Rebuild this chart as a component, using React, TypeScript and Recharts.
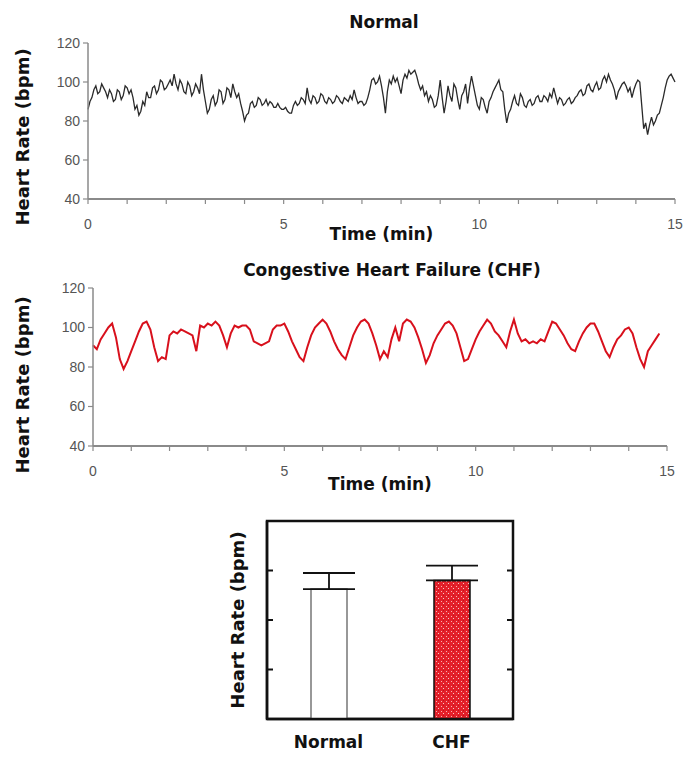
import React from 'react';
import { LineChart, Line, XAxis, YAxis, ComposedChart, Bar, Cell, ErrorBar, Label, ReferenceArea } from 'recharts';

// Normal subject, bpm every 0.05 min from 0 to 15 min
const NORMAL_STEP = 0.05;
const normalHr = [
  86, 90, 92, 96, 98, 94, 95, 99, 97, 95, 92, 96, 94, 90, 91, 96, 95, 91, 93, 98,
  97, 94, 96, 92, 86, 88, 83, 85, 90, 88, 95, 92, 92, 97, 98, 94, 96, 101, 100, 96,
  97, 99, 101, 98, 104, 99, 96, 101, 99, 95, 94, 100, 98, 93, 95, 99, 97, 94, 104, 96,
  90, 84, 86, 91, 93, 88, 90, 96, 95, 89, 91, 97, 96, 92, 99, 95, 92, 94, 89, 85,
  80, 83, 84, 89, 90, 87, 88, 92, 91, 88, 89, 91, 88, 90, 89, 87, 87, 89, 87, 86,
  86, 87, 85, 84, 84, 88, 90, 88, 89, 92, 91, 89, 97, 91, 89, 93, 92, 89, 90, 94,
  93, 90, 89, 92, 91, 89, 90, 93, 92, 90, 89, 92, 91, 90, 93, 91, 96, 92, 89, 90,
  90, 88, 89, 92, 96, 101, 102, 99, 100, 103, 98, 92, 84, 95, 101, 99, 103, 100, 102, 98,
  94, 101, 104, 102, 106, 104, 105, 106, 103, 99, 96, 98, 93, 95, 90, 93, 91, 87, 88, 93,
  101, 92, 84, 90, 98, 93, 90, 99, 97, 91, 86, 93, 95, 99, 89, 97, 103, 98, 93, 88,
  86, 92, 91, 87, 84, 90, 92, 95, 97, 99, 101, 96, 95, 86, 79, 84, 86, 90, 93, 89,
  88, 94, 92, 88, 87, 90, 91, 88, 89, 92, 93, 90, 90, 93, 92, 90, 94, 92, 97, 93,
  89, 92, 91, 88, 89, 91, 92, 89, 90, 92, 93, 95, 96, 93, 94, 98, 99, 96, 95, 98,
  100, 96, 97, 101, 103, 100, 104, 101, 99, 96, 91, 95, 97, 99, 100, 98, 95, 97, 92, 96,
  99, 101, 100, 88, 76, 79, 73, 78, 82, 78, 80, 83, 84, 88, 92, 97, 101, 103, 104, 102,
  100,
];

// CHF patient, bpm every 0.1 min from 0 to 14.8 min
const CHF_STEP = 0.1;
const chfHr = [
  91, 89, 94, 97, 100, 102, 95, 84, 79, 83,
  88, 93, 98, 102, 103, 99, 90, 83, 85, 84,
  96, 98, 97, 99, 98, 97, 96, 88, 101, 100,
  102, 101, 103, 101, 96, 90, 97, 101, 100, 101,
  101, 99, 93, 92, 91, 92, 93, 99, 101, 101,
  102, 98, 93, 89, 85, 83, 90, 96, 100, 102,
  104, 102, 98, 93, 89, 86, 84, 90, 96, 100,
  103, 104, 102, 97, 91, 84, 88, 85, 94, 100,
  93, 102, 104, 103, 100, 95, 89, 82, 86, 92,
  96, 99, 102, 103, 101, 97, 90, 83, 84, 89,
  94, 98, 101, 104, 102, 98, 96, 93, 90, 98,
  104, 97, 93, 94, 92, 93, 92, 94, 93, 98,
  103, 102, 99, 96, 92, 89, 88, 93, 97, 100,
  102, 102, 98, 93, 88, 85, 90, 94, 96, 99,
  100, 97, 90, 84, 80, 88, 91, 94, 97,
];

const timeTicks = [0, 1, 2, 3, 4, 5, 6, 7, 8, 9, 10, 11, 12, 13, 14, 15];
const hrTicks = [40, 60, 80, 100, 120];

// summary bars: mean and SD (bpm)
const barGroups = ['Normal', 'CHF'];
const barMeans = [92.5, 96];
const barSd = [6.5, 6];
const barTicks = [60, 80, 100];

const toSeries = (vals: number[], step: number) =>
  vals.map((hr, i) => ({ t: Math.round(i * step * 100) / 100, hr }));
const normalData = toSeries(normalHr, NORMAL_STEP);
const chfData = toSeries(chfHr, CHF_STEP);
const barData = barGroups.map((name, i) => ({ name, mean: barMeans[i], err: [0, barSd[i]] }));

const TICK_FONT = "'Liberation Sans', Arial, sans-serif";
const BOLD_FONT = "'DejaVu Sans', 'Liberation Sans', sans-serif";
const AXIS_GRAY = '#8a8a8a';

const yTitle = (cx: number, cy: number) => () => (
  <text
    x={cx}
    y={cy}
    transform={`rotate(-90, ${cx}, ${cy})`}
    textAnchor="middle"
    dominantBaseline="central"
    fontFamily={BOLD_FONT}
    fontWeight="bold"
    fontSize={18}
    fill="#111"
  >
    Heart Rate (bpm)
  </text>
);

const Title: React.FC<{ text: string; cx: number; cy: number }> = ({ text, cx, cy }) => (
  <div
    style={{
      position: 'absolute',
      left: cx - 250,
      top: cy - 11,
      width: 500,
      lineHeight: '22px',
      textAlign: 'center',
      fontFamily: BOLD_FONT,
      fontWeight: 'bold',
      fontSize: 17,
      color: '#111',
    }}
  >
    {text}
  </div>
);

interface TraceProps {
  data: { t: number; hr: number }[];
  color: string;
  width: number;
  top: number;
  plotTop: number;
  plotLeft: number;
  plotRight: number;
  axisHeight: number;
  labelY: number;
}

const Trace: React.FC<TraceProps> = ({ data, color, width, top, plotTop, plotLeft, plotRight, axisHeight, labelY }) => (
  <div style={{ position: 'absolute', left: 0, top }}>
    <LineChart width={685} height={250} data={data} margin={{ top: plotTop, right: 685 - plotRight, left: 0, bottom: 0 }}>
      <XAxis
        dataKey="t"
        type="number"
        domain={[0, 15]}
        ticks={timeTicks}
        interval={0}
        height={axisHeight}
        tickSize={5}
        tickMargin={15}
        tickFormatter={(v: number) => (v % 5 === 0 ? String(v) : '')}
        tick={{ fontSize: 14, fill: '#555', fontFamily: TICK_FONT }}
        axisLine={{ stroke: AXIS_GRAY, strokeWidth: 2 }}
        tickLine={{ stroke: AXIS_GRAY, strokeWidth: 1.2 }}
      >
        <Label value="Time (min)" position="insideBottom" offset={10} fontFamily={BOLD_FONT} fontWeight="bold" fontSize={17} fill="#111" />
      </XAxis>
      <YAxis
        type="number"
        domain={[40, 120]}
        ticks={hrTicks}
        interval={0}
        width={plotLeft}
        tickSize={5}
        tickMargin={3}
        tick={{ fontSize: 14, fill: '#555', fontFamily: TICK_FONT }}
        axisLine={{ stroke: AXIS_GRAY, strokeWidth: 1.5 }}
        tickLine={{ stroke: AXIS_GRAY, strokeWidth: 1.2 }}
      >
        <Label content={yTitle(22, labelY)} />
      </YAxis>
      <Line type="linear" dataKey="hr" stroke={color} strokeWidth={width} dot={false} isAnimationActive={false} />
    </LineChart>
  </div>
);

export default function App() {
  return (
    <div style={{ position: 'absolute', left: 0, top: 0, width: 685, height: 757, background: '#fff' }}>
      <Title text="Normal" cx={384} cy={22} />
      <Trace data={normalData} color="#2a2a2a" width={1.3} top={0} plotTop={43} plotLeft={88} plotRight={675} axisHeight={51} labelY={137} />

      <Title text="Congestive Heart Failure (CHF)" cx={392} cy={270} />
      <Trace data={chfData} color="#d8101c" width={2} top={250} plotTop={38} plotLeft={93} plotRight={667} axisHeight={54} labelY={135} />

      <div style={{ position: 'absolute', left: 0, top: 500 }}>
        <ComposedChart width={685} height={257} data={barData} margin={{ top: 21, right: 172, left: 267, bottom: 0 }} barCategoryGap={0}>
          <defs>
            <pattern id="chfSpeckle" width="5" height="5" patternUnits="userSpaceOnUse">
              <rect width="5" height="5" fill="#e3202a" />
              <rect x="1" y="1" width="1" height="1" fill="#f7b0b0" />
              <rect x="3" y="3" width="1" height="1" fill="#f9c8c8" />
              <rect x="3" y="0" width="1" height="1" fill="#c0101a" />
            </pattern>
          </defs>
          <XAxis
            dataKey="name"
            height={38}
            tickSize={0}
            tickMargin={17}
            tickLine={false}
            tick={{ fontSize: 17, fontWeight: 'bold', fill: '#111', fontFamily: BOLD_FONT }}
            axisLine={{ stroke: '#111', strokeWidth: 2.5 }}
          />
          <YAxis
            type="number"
            domain={[40, 120]}
            ticks={barTicks}
            interval={0}
            width={1}
            mirror
            tickFormatter={() => ''}
            tickSize={6}
            axisLine={{ stroke: '#111', strokeWidth: 2.5 }}
            tickLine={{ stroke: '#111', strokeWidth: 2 }}
          >
            <Label content={yTitle(237, 120)} />
          </YAxis>
          <YAxis
            yAxisId="right"
            orientation="right"
            type="number"
            domain={[40, 120]}
            ticks={barTicks}
            interval={0}
            width={1}
            mirror
            tickFormatter={() => ''}
            tickSize={6}
            axisLine={{ stroke: '#111', strokeWidth: 2 }}
            tickLine={{ stroke: '#111', strokeWidth: 2 }}
          />
          <ReferenceArea y1={40} y2={120} fill="none" stroke="#111" strokeWidth={2.5} />
          <Bar dataKey="mean" barSize={36} isAnimationActive={false}>
            <Cell fill="#fff" stroke="#777" strokeWidth={1.5} />
            <Cell fill="url(#chfSpeckle)" stroke="#111" strokeWidth={1.5} />
            <ErrorBar dataKey="err" width={26} stroke="#111" strokeWidth={1.8} direction="y" />
          </Bar>
          <Line yAxisId="right" dataKey="mean" stroke="none" dot={false} activeDot={false} isAnimationActive={false} />
        </ComposedChart>
      </div>
    </div>
  );
}
